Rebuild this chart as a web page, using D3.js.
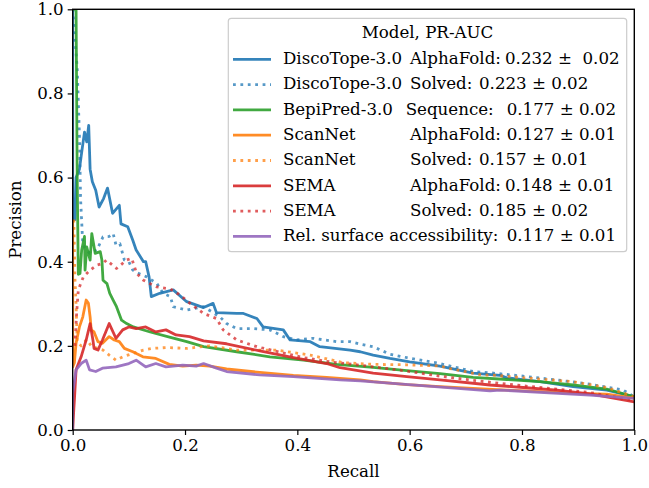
<!DOCTYPE html>
<html>
<head>
<meta charset="utf-8">
<script src="https://cdn.jsdelivr.net/npm/d3@7"></script>
<style>
  html, body { margin: 0; padding: 0; background: #fff; }
  svg { display: block; font-family: "DejaVu Serif", serif; }
</style>
</head>
<body>
<svg id="chart" width="649" height="488"></svg>
<script>
// ---------------- data ----------------
const xTicks = [0.0, 0.2, 0.4, 0.6, 0.8, 1.0];
const yTicks = [0.0, 0.2, 0.4, 0.6, 0.8, 1.0];

const dtAfRecall    = [0.0,0.0,0.004,0.006,0.012,0.016,0.021,0.025,0.0285,0.031,0.035,0.041,0.047,0.055,0.062,0.071,0.083,0.086,0.098,0.107,0.113,0.126,0.13,0.136,0.14,0.155,0.179,0.203,0.233,0.25,0.256,0.292,0.304,0.328,0.339,0.375,0.387,0.423,0.44,0.494,0.512,0.535,0.565,0.60,0.654,0.713,0.761,0.773,0.832,0.891,0.951,1.0];
const dtAfPrecision = [1.0,0.5,0.5,0.6,0.62,0.66,0.708,0.685,0.724,0.62,0.59,0.57,0.53,0.55,0.575,0.515,0.534,0.49,0.483,0.451,0.428,0.40,0.40,0.364,0.317,0.325,0.333,0.305,0.291,0.301,0.279,0.277,0.277,0.265,0.245,0.238,0.214,0.21,0.198,0.19,0.186,0.178,0.170,0.162,0.152,0.135,0.13,0.124,0.115,0.103,0.095,0.079];

const dtSolRecall    = [0.0,0.008,0.012,0.014,0.018,0.03,0.043,0.054,0.065,0.072,0.077,0.084,0.092,0.1,0.107,0.116,0.132,0.15,0.161,0.174,0.179,0.191,0.203,0.233,0.262,0.274,0.292,0.322,0.351,0.375,0.399,0.428,0.47,0.494,0.512,0.535,0.565,0.595,0.654,0.713,0.743,0.802,0.862,0.921,0.98,1.0];
const dtSolPrecision = [1.0,0.86,0.70,0.55,0.44,0.42,0.428,0.459,0.46,0.467,0.44,0.443,0.404,0.40,0.38,0.373,0.364,0.348,0.325,0.317,0.293,0.289,0.285,0.293,0.269,0.253,0.241,0.241,0.238,0.222,0.214,0.218,0.21,0.21,0.204,0.198,0.18,0.172,0.158,0.139,0.136,0.128,0.119,0.109,0.095,0.079];

const bpRecall    = [0.0,0.006,0.008,0.010,0.013,0.016,0.021,0.022,0.025,0.031,0.034,0.04,0.049,0.052,0.054,0.061,0.066,0.072,0.078,0.087,0.096,0.108,0.138,0.174,0.203,0.233,0.292,0.351,0.411,0.47,0.535,0.595,0.654,0.713,0.773,0.832,0.891,0.951,1.0];
const bpPrecision = [1.0,1.0,0.60,0.37,0.372,0.428,0.46,0.38,0.435,0.404,0.467,0.42,0.424,0.404,0.356,0.348,0.325,0.309,0.293,0.261,0.253,0.245,0.233,0.22,0.21,0.198,0.186,0.174,0.166,0.156,0.149,0.141,0.134,0.125,0.12,0.115,0.107,0.097,0.079];

const snAfRecall    = [0.0,0.0,0.003,0.006,0.012,0.018,0.024,0.028,0.031,0.033,0.038,0.045,0.053,0.065,0.074,0.083,0.092,0.107,0.125,0.148,0.172,0.196,0.22,0.244,0.274,0.333,0.393,0.452,0.512,0.535,0.595,0.654,0.713,0.773,0.832,0.891,0.951,1.0];
const snAfPrecision = [0.5,0.15,0.16,0.206,0.245,0.269,0.309,0.301,0.269,0.238,0.233,0.21,0.206,0.222,0.214,0.21,0.194,0.186,0.174,0.17,0.156,0.152,0.154,0.152,0.145,0.137,0.13,0.125,0.119,0.115,0.108,0.103,0.099,0.095,0.091,0.087,0.085,0.076];

const snSolRecall    = [0.002,0.004,0.006,0.008,0.015,0.025,0.034,0.045,0.054,0.065,0.077,0.089,0.107,0.126,0.142,0.166,0.203,0.244,0.292,0.363,0.423,0.482,0.535,0.595,0.654,0.672,0.731,0.743,0.832,0.891,0.951,1.0];
const snSolPrecision = [0.5,0.36,0.30,0.21,0.2,0.215,0.198,0.194,0.19,0.178,0.166,0.174,0.182,0.19,0.194,0.196,0.194,0.2,0.19,0.19,0.178,0.16,0.156,0.155,0.152,0.146,0.13,0.131,0.121,0.115,0.101,0.079];

const semaAfRecall    = [0.0,0.002,0.003,0.006,0.015,0.024,0.031,0.036,0.038,0.045,0.053,0.065,0.077,0.089,0.1,0.113,0.13,0.148,0.166,0.184,0.208,0.233,0.274,0.333,0.393,0.452,0.476,0.535,0.595,0.654,0.743,0.802,0.862,0.921,1.0];
const semaAfPrecision = [0.0,0.05,0.071,0.143,0.174,0.214,0.253,0.214,0.194,0.19,0.214,0.253,0.218,0.238,0.245,0.241,0.245,0.233,0.238,0.226,0.222,0.212,0.205,0.188,0.172,0.158,0.148,0.135,0.127,0.119,0.107,0.101,0.095,0.086,0.067];

const semaSolRecall    = [0.004,0.007,0.01,0.019,0.031,0.043,0.054,0.06,0.078,0.096,0.105,0.114,0.126,0.15,0.174,0.191,0.209,0.233,0.256,0.268,0.292,0.328,0.369,0.411,0.458,0.512,0.595,0.654,0.713,0.802,0.862,0.921,1.0];
const semaSolPrecision = [0.20,0.277,0.333,0.364,0.38,0.392,0.396,0.404,0.384,0.404,0.408,0.372,0.356,0.34,0.335,0.321,0.301,0.277,0.265,0.238,0.214,0.198,0.185,0.172,0.162,0.154,0.14,0.128,0.118,0.105,0.097,0.089,0.07];

const rsaRecall    = [0.0,0.0,0.006,0.015,0.024,0.03,0.041,0.053,0.077,0.1,0.113,0.13,0.148,0.166,0.196,0.22,0.233,0.256,0.274,0.333,0.393,0.476,0.512,0.743,0.761,0.921,1.0];
const rsaPrecision = [0.0,0.088,0.143,0.158,0.166,0.143,0.139,0.147,0.15,0.158,0.166,0.15,0.158,0.15,0.154,0.152,0.158,0.147,0.139,0.131,0.127,0.119,0.117,0.093,0.095,0.083,0.075];

const legendTitle = "Model, PR-AUC";
const legendNames   = ["DiscoTope-3.0", "DiscoTope-3.0", "BepiPred-3.0", "ScanNet", "ScanNet", "SEMA", "SEMA", "Rel. surface accessibility:"];
const legendMethods = ["AlphaFold:", "Solved:", "Sequence:", "AlphaFold:", "Solved:", "AlphaFold:", "Solved:", ""];
const legendScores  = ["0.232 \u00b1  0.02", "0.223 \u00b1 0.02", "0.177 \u00b1 0.02", "0.127 \u00b1 0.01", "0.157 \u00b1 0.01", "0.148 \u00b1 0.01", "0.185 \u00b1 0.02", "0.117 \u00b1 0.01"];

// ---------------- styles ----------------
const seriesData = [
  {r: dtAfRecall,   p: dtAfPrecision,   color: "#1f77b4", dotted: false},
  {r: dtSolRecall,  p: dtSolPrecision,  color: "#1f77b4", dotted: true},
  {r: bpRecall,     p: bpPrecision,     color: "#2ca02c", dotted: false},
  {r: snAfRecall,   p: snAfPrecision,   color: "#ff7f0e", dotted: false},
  {r: snSolRecall,  p: snSolPrecision,  color: "#ff7f0e", dotted: true},
  {r: semaAfRecall, p: semaAfPrecision, color: "#d62728", dotted: false},
  {r: semaSolRecall,p: semaSolPrecision,color: "#d62728", dotted: true},
  {r: rsaRecall,    p: rsaPrecision,    color: "#9467bd", dotted: false}
];

const FS = 16.67;
const LW = 2.8;
const DASH = "2.8,4.6";
const svg = d3.select("#chart");
const X0 = 72.7, X1 = 634.3, Y0 = 430, Y1 = 9.3;
const x = d3.scaleLinear().domain([0, 1]).range([X0, X1]);
const y = d3.scaleLinear().domain([0, 1]).range([Y0, Y1]);

svg.append("defs").append("clipPath").attr("id", "clip")
  .append("rect").attr("x", X0).attr("y", Y1).attr("width", X1 - X0).attr("height", Y0 - Y1);

const line = d3.line().x(d => x(d[0])).y(d => y(d[1]));
const plot = svg.append("g").attr("clip-path", "url(#clip)");
seriesData.forEach(s => {
  const pts = s.r.map((r, i) => [r, s.p[i]]);
  plot.append("path").datum(pts)
    .attr("d", line)
    .attr("fill", "none")
    .attr("stroke", s.color)
    .attr("stroke-width", LW)
    .attr("stroke-opacity", s.dotted ? 0.75 : 0.9)
    .attr("stroke-linejoin", "round")
    .attr("stroke-dasharray", s.dotted ? DASH : null);
});

// axes
const xAxis = svg.append("g").attr("transform", `translate(0,${Y0})`)
  .call(d3.axisBottom(x).tickValues(xTicks).tickFormat(d3.format(".1f")).tickSizeOuter(0).tickSize(5).tickPadding(4));
const yAxis = svg.append("g").attr("transform", `translate(${X0},0)`)
  .call(d3.axisLeft(y).tickValues(yTicks).tickFormat(d3.format(".1f")).tickSizeOuter(0).tickSize(5).tickPadding(4));
[xAxis, yAxis].forEach(a => {
  a.select(".domain").remove();
  a.selectAll(".tick line").attr("stroke", "#000").attr("stroke-width", 1.2);
  a.selectAll(".tick text").attr("font-size", FS).attr("font-family", "DejaVu Serif").attr("fill", "#000");
});
svg.append("rect").attr("x", X0).attr("y", Y1).attr("width", X1 - X0).attr("height", Y0 - Y1)
  .attr("fill", "none").attr("stroke", "#000").attr("stroke-width", 1.4);

svg.append("text").attr("x", (X0 + X1) / 2).attr("y", 477).attr("text-anchor", "middle")
  .attr("font-size", FS).text("Recall");
svg.append("text").attr("transform", `translate(21,${(Y0 + Y1) / 2}) rotate(-90)`).attr("text-anchor", "middle")
  .attr("font-size", FS).text("Precision");

// legend
const lg = svg.append("g");
lg.append("rect").attr("x", 228.3).attr("y", 18.3).attr("width", 398.4).attr("height", 233.4)
  .attr("rx", 3).attr("fill", "#fff").attr("fill-opacity", 0.8).attr("stroke", "#cccccc").attr("stroke-width", 1.2);
lg.append("text").attr("x", 427.5).attr("y", 37.5).attr("text-anchor", "middle").attr("font-size", FS).text(legendTitle);
const methodX = [410, 410, 405.7, 410, 410, 410, 410, 410];
const scoreX  = [505, 479, 506.7, 506.7, 479, 505, 479, 506.7];
seriesData.forEach((s, i) => {
  const base = 64 + i * 25.3;
  lg.append("line").attr("x1", 233).attr("x2", 271).attr("y1", base - 4.7).attr("y2", base - 4.7)
    .attr("stroke", s.color).attr("stroke-width", LW)
    .attr("stroke-opacity", s.dotted ? 0.75 : 0.9)
    .attr("stroke-dasharray", s.dotted ? DASH : null);
  const t = lg.append("text").attr("y", base).attr("font-size", FS).attr("xml:space", "preserve").style("white-space", "pre");
  t.append("tspan").attr("x", 283).text(legendNames[i]);
  if (legendMethods[i]) t.append("tspan").attr("x", methodX[i]).text(legendMethods[i]);
  t.append("tspan").attr("x", scoreX[i]).text(legendScores[i]);
});
</script>
</body>
</html>
